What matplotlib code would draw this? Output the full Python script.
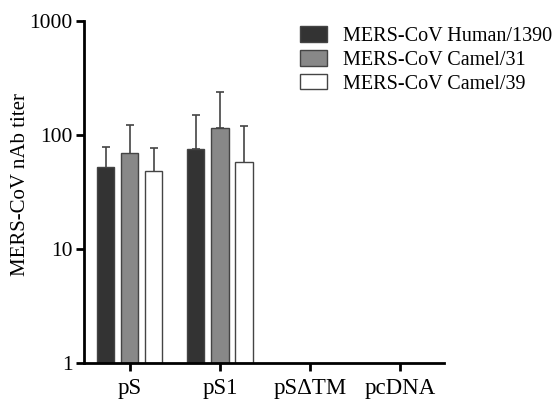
import numpy as np
import matplotlib.pyplot as plt
from matplotlib.ticker import FixedLocator, NullLocator, FixedFormatter

plt.rcParams['font.family'] = ['Liberation Serif', 'DejaVu Serif']

categories = ["pS", "pS1", "pS\u0394TM", "pcDNA"]
series = ["MERS-CoV Human/1390", "MERS-CoV Camel/31", "MERS-CoV Camel/39"]
# geometric mean titers (NaN = no detectable titer)
human_1390 = [51, 75, np.nan, np.nan]
camel_31 = [68, 115, np.nan, np.nan]
camel_39 = [47, 57, np.nan, np.nan]
# upper error bar ends
human_1390_err_top = [78, 150, np.nan, np.nan]
camel_31_err_top = [122, 238, np.nan, np.nan]
camel_39_err_top = [77, 120, np.nan, np.nan]

values = [human_1390, camel_31, camel_39]
err_tops = [human_1390_err_top, camel_31_err_top, camel_39_err_top]
colors = ["#333333", "#888888", "#ffffff"]

fig = plt.figure(figsize=(5.56, 4), dpi=100)
ax = fig.add_axes([0.151, 0.0925, 0.648, 0.855])

x = np.arange(len(categories))
width = 0.19
pitch = 0.267
for i, (vals, tops, c) in enumerate(zip(values, err_tops, colors)):
    pos = x + (i - 1) * pitch
    vals = np.array(vals, dtype=float)
    tops = np.array(tops, dtype=float)
    ax.bar(pos, vals, width, bottom=1, color=c, edgecolor="#444444",
           linewidth=1.0, label=series[i], zorder=2)
    upper = tops - vals
    ax.errorbar(pos, vals, yerr=[np.zeros_like(upper), upper], fmt="none",
                ecolor="#444444", elinewidth=1.2, capsize=3, capthick=1.2, zorder=1)

ax.set_yscale("log")
ax.set_ylim(1, 1000)
ax.set_xlim(-0.51, 3.49)
ax.yaxis.set_major_locator(FixedLocator([1, 10, 100, 1000]))
ax.yaxis.set_major_formatter(FixedFormatter(["1", "10", "100", "1000"]))
ax.yaxis.set_minor_locator(NullLocator())
ax.set_xticks(x)
ax.set_xticklabels(categories)

for s in ["top", "right"]:
    ax.spines[s].set_visible(False)
for s in ["left", "bottom"]:
    ax.spines[s].set_linewidth(2)
ax.tick_params(width=2, length=6, labelsize=15.5, color="black")
ax.tick_params(axis="x", pad=5, labelsize=16.5)
ax.tick_params(axis="y", pad=2)

ax.set_ylabel("MERS-CoV nAb titer", fontsize=15)
ax.yaxis.set_label_coords(-0.15, 0.523)

leg = ax.legend(loc="upper left", bbox_to_anchor=(0.6, 0.985), frameon=False,
                fontsize=14.5, handlelength=1.34, handleheight=0.82,
                labelspacing=0.2, handletextpad=0.8, borderaxespad=0,
                borderpad=0)

fig.savefig("out.png", dpi=100)
